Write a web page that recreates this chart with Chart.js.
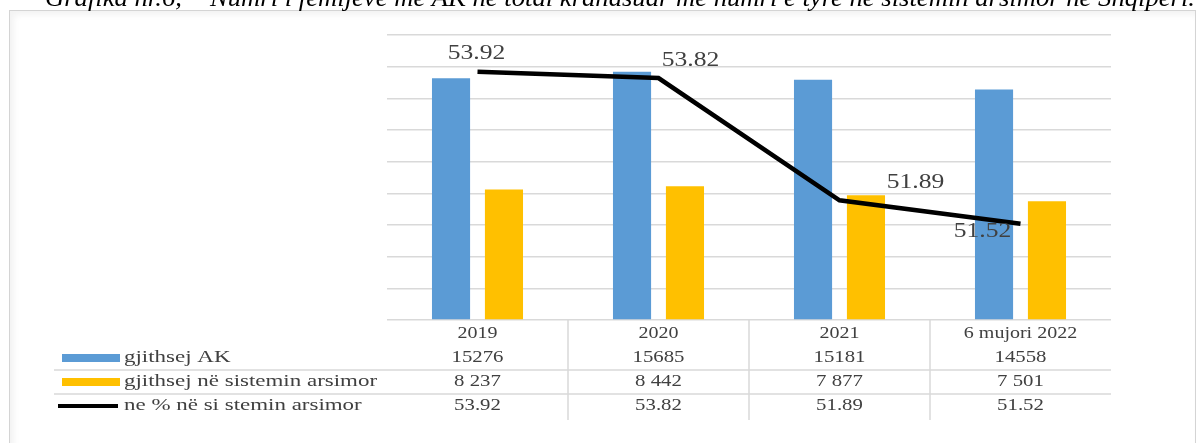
<!DOCTYPE html>
<html>
<head>
<meta charset="utf-8">
<script src="https://cdn.jsdelivr.net/npm/chart.js@4"></script>
<style>
  html, body { margin: 0; padding: 0; background: #fff; }
  #wrap { position: relative; width: 1202px; height: 443px; overflow: hidden; }
  #box {
    position: absolute; left: 9px; top: 10px; width: 1185px; height: 450px;
    border: 1px solid #d4d4d4; box-shadow: inset 4px 4px 6px rgba(0,0,0,0.05);
    background: #fff;
  }
  #barChart { position: absolute; left: 0; top: 0; }
</style>
</head>
<body>
<div id="wrap">
  <div id="box"></div>
  <canvas id="barChart" width="1202" height="443"></canvas>
</div>
<script>
var title = "Grafika nr.6,  \u201CNumri i fëmijëve me AK në total krahasuar me numri e tyre në sistemin arsimor në Shqipëri.";
var categories = ["2019", "2020", "2021", "6 mujori 2022"];
var totalAK = [15276, 15685, 15181, 14558];
var inSchool = [8237, 8442, 7877, 7501];
var percentInSchool = [53.92, 53.82, 51.89, 51.52];
var seriesNames = ["gjithsej AK", "gjithsej në sistemin arsimor", "ne % në si stemin arsimor"];

// where each line label sits relative to its point (px)
var labelOffsets = [[-1, -18], [32, -17], [76, -18], [-38, 8]];

var blue = "#5b9bd5";
var gold = "#ffc000";
var textColor = "#404040";
var serif = "'Liberation Serif', 'Times New Roman', serif";

function stretchText(ctx, text, x, y, align, sx) {
  ctx.save();
  ctx.translate(x, y);
  ctx.scale(sx, 1);
  ctx.textAlign = align;
  ctx.fillText(text, 0, 0);
  ctx.restore();
}

function spaced(n) {
  return String(n).replace(/\B(?=(\d{3})+(?!\d))/g, " ");
}

var tablePlugin = {
  id: "tablePlugin",
  afterDraw: function (chart) {
    var ctx = chart.ctx;
    var x = chart.scales.x;
    var area = chart.chartArea;
    var step = x.getPixelForValue(1) - x.getPixelForValue(0);

    // labels on the line
    var pts = chart.getDatasetMeta(2).data;
    ctx.fillStyle = textColor;
    ctx.font = "20px " + serif;
    ctx.textBaseline = "middle";
    pts.forEach(function (p, i) {
      stretchText(ctx, percentInSchool[i].toFixed(2), p.x + labelOffsets[i][0], p.y + labelOffsets[i][1], "center", 1.28);
    });

    // table grid lines
    ctx.strokeStyle = "#d9d9d9";
    ctx.lineWidth = 1.5;
    ctx.beginPath();
    for (var i = 1; i < categories.length; i++) {
      var bx = x.getPixelForValue(i) - step / 2;
      ctx.moveTo(bx, area.bottom);
      ctx.lineTo(bx, area.bottom + 100);
    }
    ctx.moveTo(54, area.bottom + 50);
    ctx.lineTo(area.right, area.bottom + 50);
    ctx.moveTo(54, area.bottom + 74);
    ctx.lineTo(area.right, area.bottom + 74);
    ctx.stroke();

    // table text
    var rows = [
      totalAK.map(String),
      inSchool.map(spaced),
      percentInSchool.map(function (v) { return v.toFixed(2); })
    ];
    ctx.fillStyle = textColor;
    ctx.font = "16px " + serif;
    categories.forEach(function (c, i) {
      stretchText(ctx, c, x.getPixelForValue(i), area.bottom + 14, "center", 1.25);
    });
    rows.forEach(function (r, k) {
      var ry = area.bottom + 38 + k * 24;
      r.forEach(function (v, i) {
        stretchText(ctx, v, x.getPixelForValue(i), ry, "center", 1.3);
      });
      // legend key
      if (k === 0) { ctx.fillStyle = blue; ctx.fillRect(62, ry - 4, 58, 8); }
      if (k === 1) { ctx.fillStyle = gold; ctx.fillRect(62, ry - 4, 58, 8); }
      if (k === 2) { ctx.fillStyle = "#000"; ctx.fillRect(58, ry - 2, 60, 4); }
      ctx.fillStyle = textColor;
      ctx.font = "17px " + serif;
      stretchText(ctx, seriesNames[k], 124, ry, "left", 1.35);
      ctx.font = "16px " + serif;
    });

    // title, clipped at the top of the page
    ctx.fillStyle = "#000";
    ctx.font = "italic 26px " + serif;
    ctx.textBaseline = "alphabetic";
    var w = ctx.measureText(title).width;
    stretchText(ctx, title, 45, 6, "left", 1150 / w);
  }
};

var ctx = document.getElementById("barChart").getContext("2d");
var myChart = new Chart(ctx, {
  type: "bar",
  data: {
    labels: categories,
    datasets: [
      {
        label: seriesNames[0],
        data: totalAK,
        backgroundColor: blue,
        yAxisID: "y",
        order: 2,
        categoryPercentage: 0.585,
        barPercentage: 0.72,
      },
      {
        label: seriesNames[1],
        data: inSchool,
        backgroundColor: gold,
        yAxisID: "y",
        order: 2,
        categoryPercentage: 0.585,
        barPercentage: 0.72,
      },
      {
        type: "line",
        label: seriesNames[2],
        data: percentInSchool,
        borderColor: "#000",
        backgroundColor: "#000",
        borderWidth: 4.5,
        pointRadius: 0,
        tension: 0,
        yAxisID: "y1",
        order: 0,
      },
    ],
  },
  options: {
    responsive: false,
    animation: false,
    layout: { padding: { left: 387, right: 91, top: 35, bottom: 123 } },
    plugins: { legend: { display: false }, tooltip: { enabled: false } },
    scales: {
      x: { display: false },
      y: {
        min: 0,
        max: 18000,
        ticks: { stepSize: 2000, display: false },
        grid: { color: "#d9d9d9", lineWidth: 1.5, drawTicks: false },
        border: { display: false },
      },
      y1: { display: false, min: 50, max: 54.5 },
    },
  },
  plugins: [tablePlugin],
});
</script>
</body>
</html>
